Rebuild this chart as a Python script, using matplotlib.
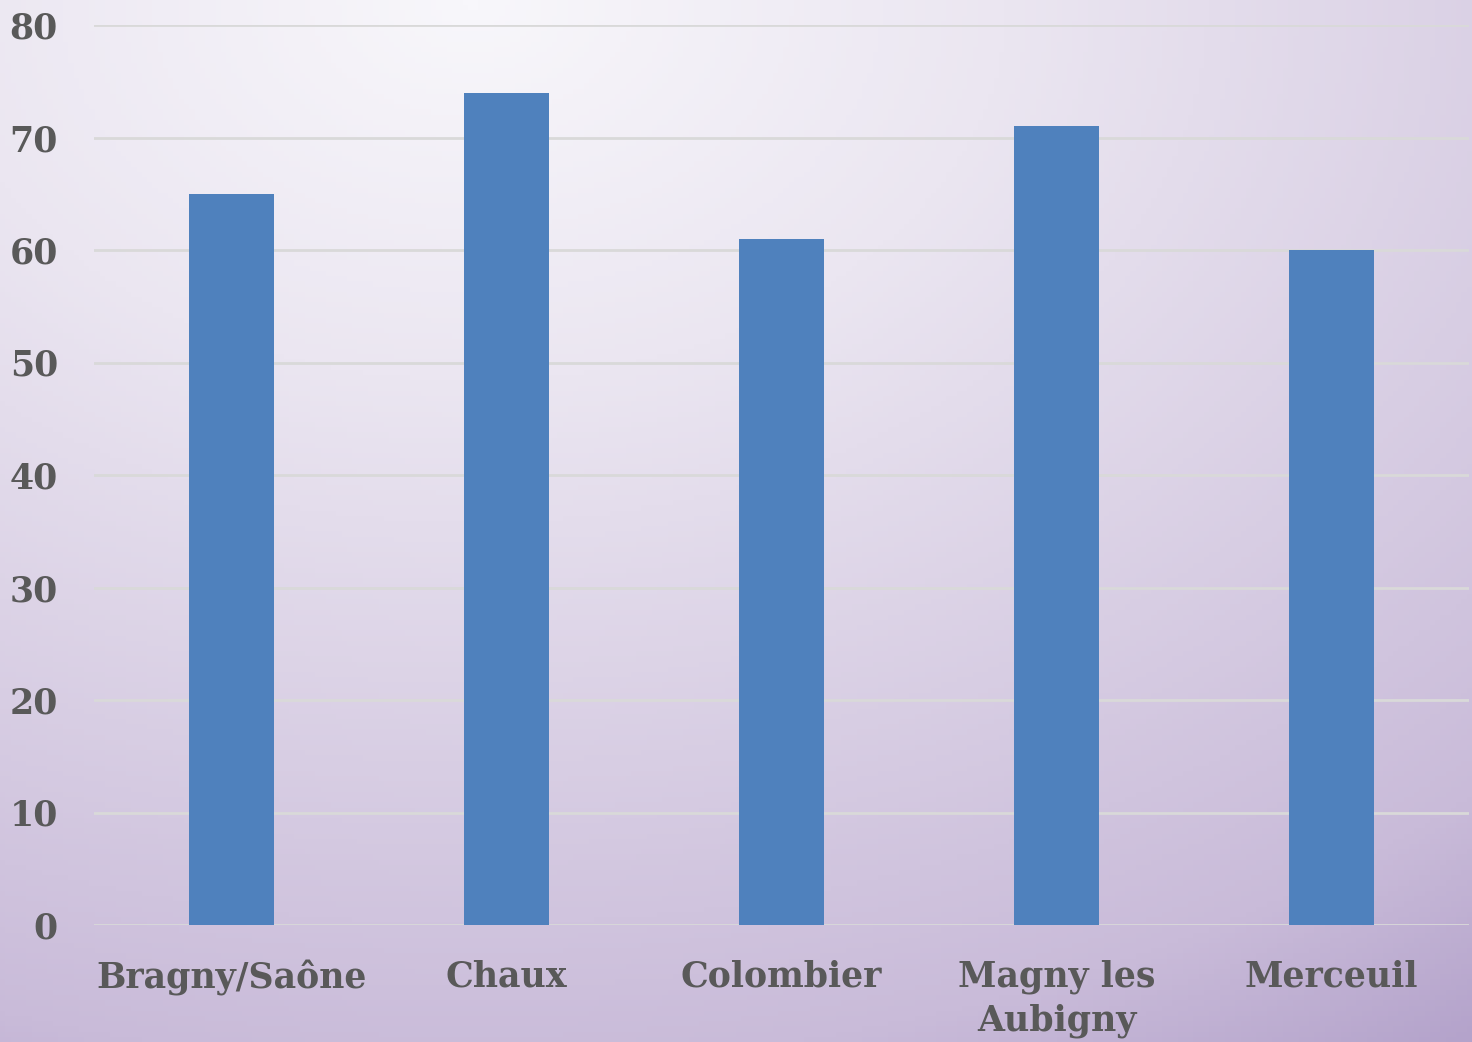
import numpy as np
import matplotlib
matplotlib.use("Agg")
import matplotlib.pyplot as plt
from matplotlib.colors import LinearSegmentedColormap

villages = ["Bragny/Saône", "Chaux", "Colombier", "Magny les\nAubigny", "Merceuil"]
values = [65, 74, 61, 71, 60]
yticks = [0, 10, 20, 30, 40, 50, 60, 70, 80]

plt.rcParams['font.family'] = ['DejaVu Serif']
plt.rcParams['font.weight'] = 'bold'

fig = plt.figure(figsize=(14.72, 10.42), dpi=100)

# background gradient: light near the top, purple towards the bottom right
bg = fig.add_axes([0, 0, 1, 1])
h, w = 200, 280
yy, xx = np.mgrid[0:1:h*1j, 0:1:w*1j]
d = np.sqrt((xx - 0.32) ** 2 + yy ** 2)
d = np.clip(d / 1.22, 0, 1)
cmap = LinearSegmentedColormap.from_list(
    "bg", [(0, "#f8f7fb"), (0.3, "#ebe6f1"), (0.85, "#c9bbd9"), (1.0, "#b4a3cb")])
bg.imshow(d, cmap=cmap, aspect="auto", extent=[0, 1, 0, 1], origin="upper")
bg.axis("off")

ax = fig.add_axes([94/1472, 117/1042, 1375/1472, 900/1042])
ax.patch.set_alpha(0)
x = np.arange(len(villages))
ax.bar(x, values, width=0.31, color="#4f81bd", zorder=3)
ax.set_xlim(-0.5, len(villages) - 0.5)
ax.set_ylim(0, 80)
ax.set_yticks(yticks)
ax.set_xticks(x)
ax.set_xticklabels(villages, linespacing=1.35)
ax.grid(axis="y", color="#d9d9d9", linewidth=2, zorder=0)
ax.set_axisbelow(True)
for s in ax.spines.values():
    s.set_visible(False)
ax.tick_params(axis="both", length=0, labelsize=25, labelcolor="#595959")
ax.tick_params(axis="y", pad=26)
ax.tick_params(axis="x", pad=25)

fig.savefig("out.png", dpi=100)
